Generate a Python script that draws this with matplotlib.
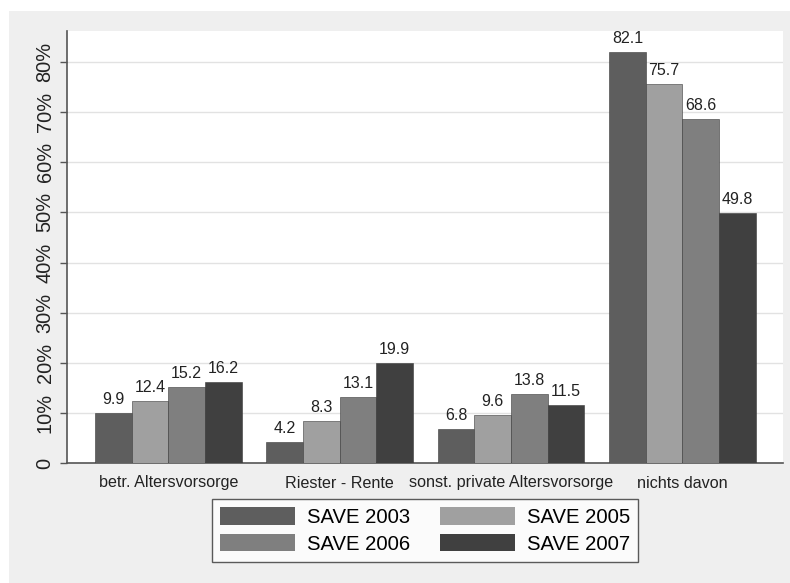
import matplotlib.pyplot as plt
from matplotlib.patches import Rectangle
import numpy as np

plt.rcParams['font.family'] = ['Liberation Sans', 'DejaVu Sans']

categories = ['betr. Altersvorsorge', 'Riester - Rente',
              'sonst. private Altersvorsorge', 'nichts davon']
series = ['SAVE 2003', 'SAVE 2005', 'SAVE 2006', 'SAVE 2007']
save2003 = [9.9, 4.2, 6.8, 82.1]
save2005 = [12.4, 8.3, 9.6, 75.7]
save2006 = [15.2, 13.1, 13.8, 68.6]
save2007 = [16.2, 19.9, 11.5, 49.8]
y_ticks = [0, 10, 20, 30, 40, 50, 60, 70, 80]
y_labels = ['0', '10%', '20%', '30%', '40%', '50%', '60%', '70%', '80%']

colors = ['#5e5e5e', '#a0a0a0', '#7f7f7f', '#404040']
values = [save2003, save2005, save2006, save2007]

fig = plt.figure(figsize=(7.9, 5.83), dpi=100)
fig.patch.set_facecolor('white')
# light gray outer frame (Stata style)
fig.patches.append(Rectangle((9 / 790, 0), 1 - 9 / 790, 1 - 11 / 583,
                             transform=fig.transFigure, facecolor='#efefef',
                             edgecolor='none', zorder=-10))

ax = fig.add_axes([67 / 790, 120 / 583, 716 / 790, 432 / 583])
ax.set_facecolor('white')

spacing = 4.67
x = np.arange(len(categories)) * spacing
handles = []
for i in range(len(series)):
    xs = x + (i - 1.5)
    bars = ax.bar(xs, values[i], width=1.0, color=colors[i],
                  edgecolor='#3a3a3a', linewidth=0.4, label=series[i], zorder=3)
    handles.append(bars)
    for xx, v in zip(xs, values[i]):
        ax.text(xx, v + 1.2, '{:.1f}'.format(v), ha='center', va='bottom',
                fontsize=11.5, color='#222222', zorder=4)

ax.set_xlim(-2.76, 16.75)
ax.set_ylim(0, 86.2)
ax.set_yticks(y_ticks)
ax.set_yticklabels(y_labels, rotation=90, va='center', fontsize=14.4, color='#222222')
ax.set_xticks(x)
ax.set_xticklabels(categories, fontsize=11.6, color='#222222')
ax.tick_params(axis='x', length=0, pad=9)
ax.tick_params(axis='y', length=5, width=1, color='#555555', pad=4)
ax.grid(axis='y', color='#e2e2e2', linewidth=1, zorder=0)

for s in ['top', 'right']:
    ax.spines[s].set_visible(False)
ax.spines['left'].set_color('#555555')
ax.spines['bottom'].set_color('#555555')
ax.spines['left'].set_linewidth(1.2)
ax.spines['bottom'].set_linewidth(1.2)

# row-wise order: 2003, 2005 / 2006, 2007
order = [0, 2, 1, 3]
leg = fig.legend([handles[k] for k in order], [series[k] for k in order],
                 loc='center', bbox_to_anchor=(425 / 790, 1 - 530.5 / 583),
                 ncol=2, fontsize=14.6, frameon=True, fancybox=False,
                 handlelength=3.72, handleheight=0.94, handletextpad=0.58,
                 columnspacing=1.45, borderpad=0.4, labelspacing=0.35,
                 edgecolor='#333333', borderaxespad=0)
leg.get_frame().set_linewidth(1.0)
for h in leg.legend_handles:
    h.set_edgecolor('none')

fig.savefig('out.png', dpi=100)
